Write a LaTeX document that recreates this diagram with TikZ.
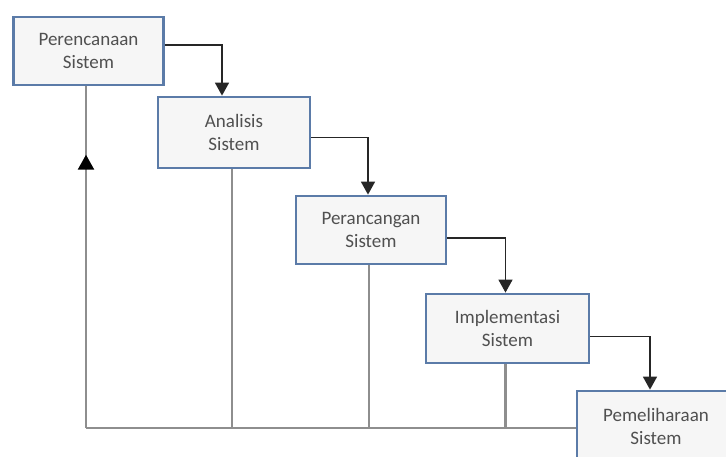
\documentclass[tikz,border=0pt]{standalone}
\usepackage{fontspec}
\newfontfamily\boxfont{Carlito}
\usepackage{tikz}
\usetikzlibrary{arrows.meta,decorations.markings,positioning,calc}
\definecolor{boxline}{HTML}{5B7BA8}
\definecolor{boxfill}{HTML}{F6F6F6}
\definecolor{boxtext}{HTML}{505050}
\definecolor{backline}{HTML}{8E8E8E}
\tikzset{
	phase/.style={draw=boxline, fill=boxfill, line width=2.8pt, text=boxtext,
		font=\boxfont\fontsize{19}{23}\selectfont, align=center,
		minimum width=150pt, minimum height=68pt, inner sep=0pt},
	flow/.style={draw=black!85, line width=1.6pt, -{Triangle[length=13pt,width=14pt]}},
	back/.style={draw=backline, line width=2.4pt},
	up mark/.style={postaction={decorate, decoration={markings,
		mark=at position #1 with {\arrow[black]{Triangle[length=15pt,width=16pt]}}}}}
}

\begin{document}
\begin{tikzpicture}[x=1pt, y=-1pt]
  \useasboundingbox (0,0) rectangle (726,457);
  % tahapan
  \node[phase] (B1) at (88.5,51) {Perencanaan\\Sistem};
  \node[phase, minimum width=152pt, minimum height=71pt] (B2) at (234,132.5) {Analisis\\Sistem};
  \node[phase] (B3) at (371,230) {Perancangan\\Sistem};
  \node[phase, minimum width=163pt, minimum height=69pt] (B4) at (507.5,328.5) {Implementasi\\Sistem};
  \node[phase, minimum width=158pt, minimum height=70pt] (B5) at (656,426) {Pemeliharaan\\Sistem};
  % garis balik
  \coordinate (b1) at ($(B1.south |- B5.west)+(-2.5,2)$);
  \foreach \n in {2,3,4}
    \draw[back] ($(B\n.south)+(-2,0)$) -- ($(B\n.south |- B5.west)+(-2,2)$);
  \draw[back] (b1) -- ($(B5.west)+(0,2)$);
  \draw[back, up mark=0.8] (b1) -- ($(B1.south)+(-2.5,0)$);
  % alur
  \foreach \a/\b/\dy/\dx in {B1/B2/-6/-12,B2/B3/5/-3,B3/B4/8/-2,B4/B5/8/-6}
    \draw[flow] ($(\a.east)+(0,\dy)$) -| ($(\b.north)+(\dx,0)$);
\end{tikzpicture}
\end{document}
